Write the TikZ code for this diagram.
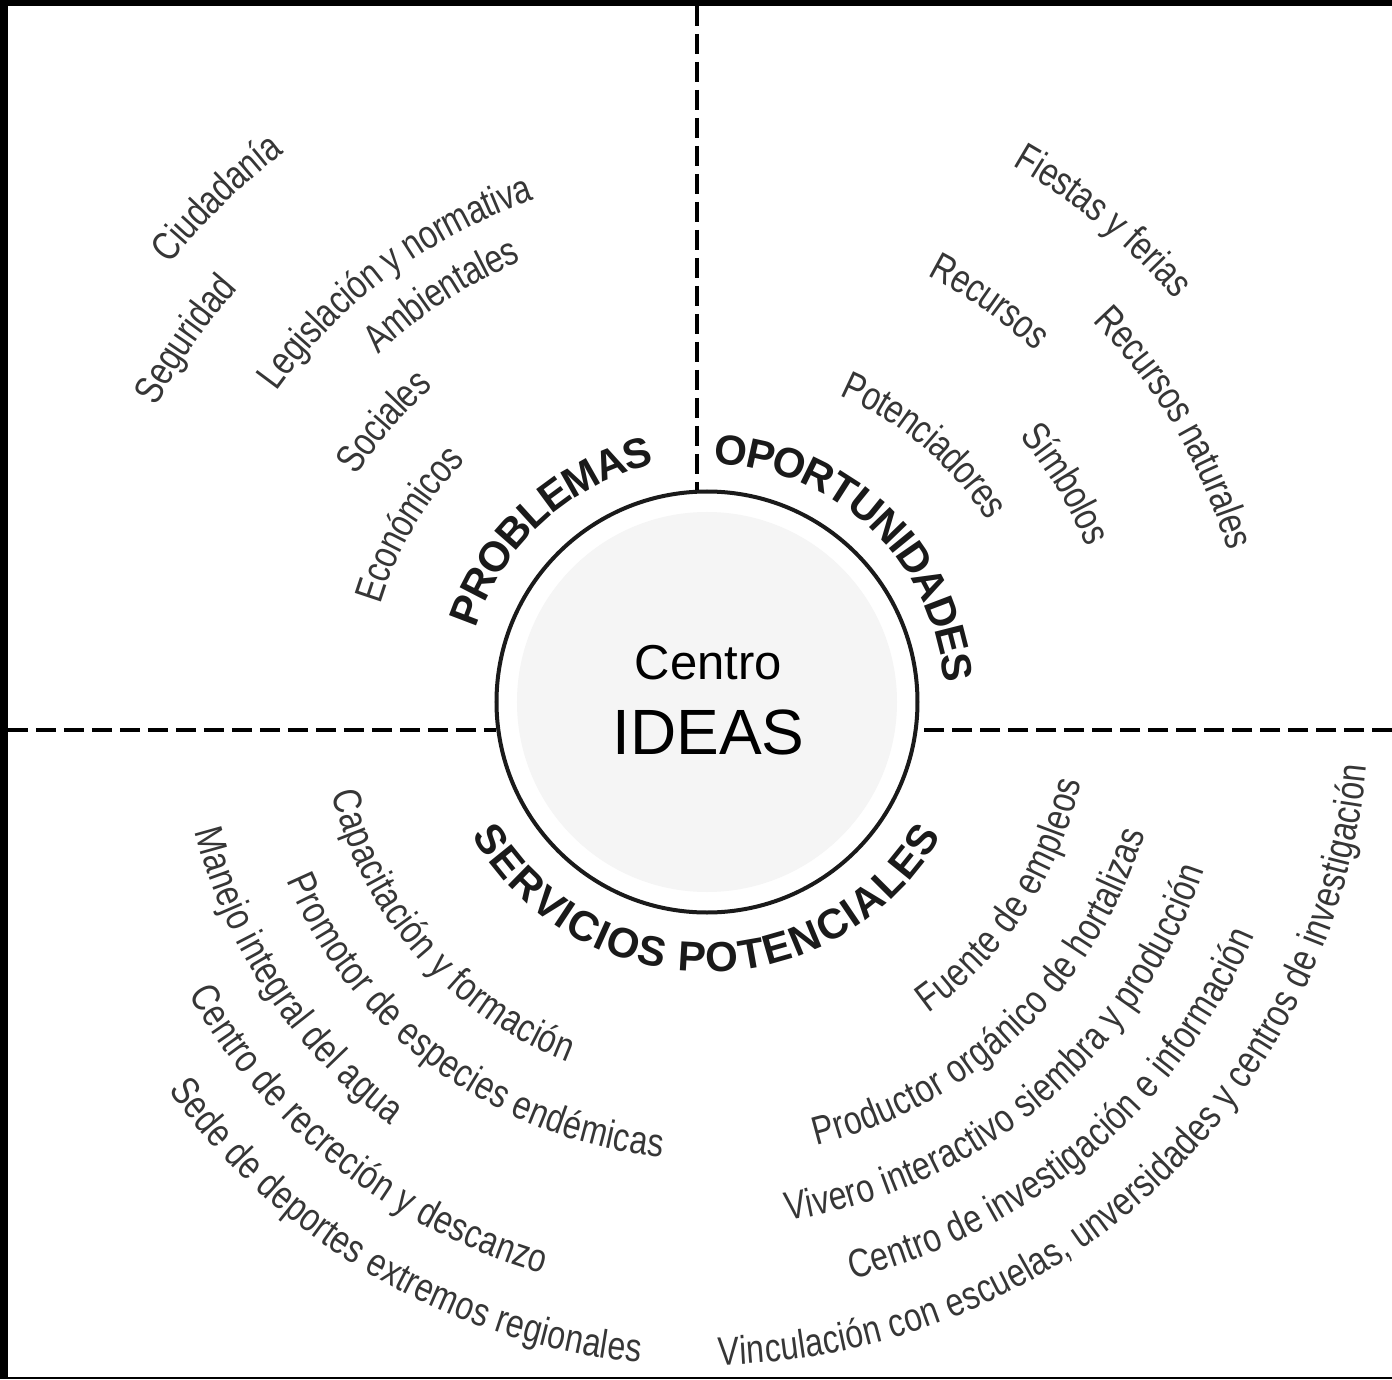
\documentclass[tikz,border=0pt]{standalone}
\usepackage{fontspec}
\setmainfont{Liberation Sans}
\newfontfamily\narrowfont[FakeStretch=0.8]{Liberation Sans}
\usepackage{tikz}
\usetikzlibrary{decorations.text}

\definecolor{txtgray}{HTML}{363636}
\definecolor{labelblack}{HTML}{1A1A1A}
\definecolor{diskgray}{HTML}{F5F5F5}

\newcommand{\graytext}{\narrowfont\fontsize{40}{44}\selectfont\color{txtgray}}
\newcommand{\labeltext}{\bfseries\fontsize{42}{48}\selectfont\color{labelblack}}

\begin{document}
\begin{tikzpicture}[x=1pt, y=1pt,
    toptext/.style n args={3}{decorate,
      decoration={text along path, text align=center, raise=-14pt, text={|\graytext|#3}},
      insert path={(#1+70:#2) arc[start angle=#1+70, end angle=#1-70, radius=#2]}},
    bottomtext/.style n args={3}{decorate,
      decoration={text along path, text align=center, raise=-14pt, text={|\graytext|#3}},
      insert path={(#1-70:#2) arc[start angle=#1-70, end angle=#1+70, radius=#2]}},
    labeltop/.style n args={3}{decorate,
      decoration={text along path, text align=center, raise=-15pt, text={|\labeltext|#3}},
      insert path={(#1+80:#2) arc[start angle=#1+80, end angle=#1-80, radius=#2]}},
    labelbottom/.style n args={3}{decorate,
      decoration={text along path, text align=center, raise=-15pt, text={|\labeltext|#3}},
      insert path={(#1-80:#2) arc[start angle=#1-80, end angle=#1+80, radius=#2]}},
    quarterline/.style={line width=4.5pt, dash pattern=on 20pt off 8pt}]

  % Frame
  \useasboundingbox (-707,-677) rectangle (685,702);
  \fill (-707,696) rectangle (685,702);
  \fill (-707,-677) rectangle (-699,702);
  \fill (-707,-677) rectangle (685,-675);

  % Central circle
  \node (centro) at (0,0) [circle, draw=labelblack, line width=4pt, minimum size=421pt, fill=white] {};
  \fill[diskgray] (centro.center) circle (190);
  \node (centrolbl) at (1.5,23) [anchor=base, font=\fontsize{49}{55}\selectfont] {Centro};
  \node (ideaslbl) at (1.5,-52) [anchor=base, font=\fontsize{64}{70}\selectfont] {IDEAS};

  % Dashed quarter lines
  \coordinate (topend) at (-10,696);
  \coordinate (leftend) at (-699,-28);
  \coordinate (rightend) at (685,-28);
  \draw[quarterline] (topend) -- (topend |- centro.92.7);
  \draw[quarterline] (leftend) -- (leftend -| centro.187.6);
  \draw[quarterline] (rightend) -- (rightend -| centro.-7.6);

  % Quarter titles
  \path[labeltop={132.4}{258}{PROBLEMAS}];
  \path[labeltop={46.5}{253}{OPORTUNIDADES}];
  \path[labelbottom={270}{255}{SERVICIOS POTENCIALES}];

  % Problemas
  \path[toptext={134.2}{707}{Ciudadanía}];
  \path[toptext={145.2}{639}{Seguridad}];
  \path[toptext={126.6}{545}{Legislación y normativa}];
  \path[toptext={123.1}{492}{Ambientales}];
  \path[toptext={139.1}{431}{Sociales}];
  \path[toptext={149.2}{355}{Económicos}];

  % Oportunidades
  \path[toptext={50.5}{631}{Fiestas y ferias}];
  \path[toptext={54.8}{494}{Recursos}];
  \path[toptext={30.4}{556}{Recursos naturales}];
  \path[toptext={49.7}{348}{Potenciadores}];
  \path[toptext={31.3}{424}{Símbolos}];

  % Servicios potenciales
  \path[bottomtext={221.3}{372}{Capacitación y formación}];
  \path[bottomtext={233.7}{443}{Promotor de especies endémicas}];
  \path[bottomtext={213.7}{514}{Manejo integral del agua}];
  \path[bottomtext={231.7}{581}{Centro de recreción y descanzo}];
  \path[bottomtext={240}{650}{Sede de deportes extremos regionales}];
  \path[bottomtext={-33.3}{368}{Fuente de empleos}];
  \path[bottomtext={-46.4}{443}{Productor orgánico de hortalizas}];
  \path[bottomtext={-49.9}{511}{Vivero interactivo siembra y producción}];
  \path[bottomtext={-49.5}{581}{Centro de investigación e información}];
  \path[bottomtext={-47.3}{649}{Vinculación con escuelas, unversidades y centros de investigación}];
\end{tikzpicture}
\end{document}
